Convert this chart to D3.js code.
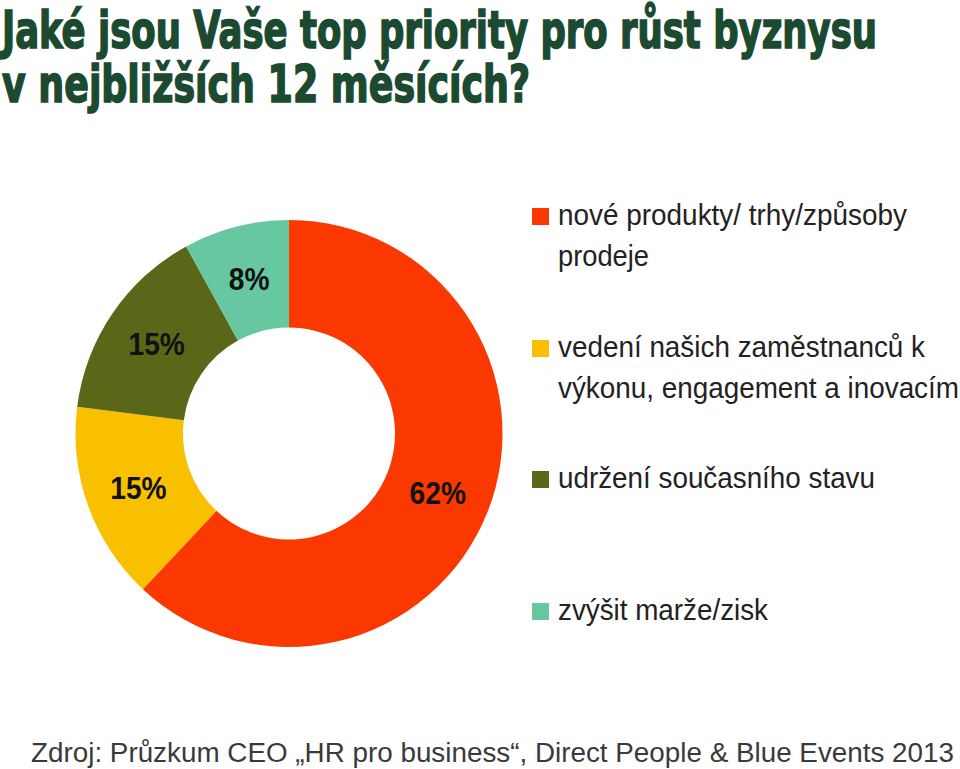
<!DOCTYPE html>
<html><head><meta charset="utf-8">
<script src="https://cdn.jsdelivr.net/npm/d3@7/dist/d3.min.js"></script>
<style>html,body{margin:0;padding:0;background:#fff;}</style>
</head><body>
<svg id="chart" width="960" height="769"></svg>
<script>
const categories = [
  "nové produkty/ trhy/způsoby prodeje",
  "vedení našich zaměstnanců k výkonu, engagement a inovacím",
  "udržení současního stavu",
  "zvýšit marže/zisk"
];
const legendLines = [
  ["nové produkty/ trhy/způsoby", "prodeje"],
  ["vedení našich zaměstnanců k", "výkonu, engagement a inovacím"],
  ["udržení současního stavu"],
  ["zvýšit marže/zisk"]
];
const values = [62, 15, 15, 8];
const colors = ["#fa3800", "#f9c000", "#5b6718", "#66c7a0"];
const titleLines = ["Jaké jsou Vaše top priority pro růst byznysu", "v nejbližších 12 měsících?"];
const footer = "Zdroj: Průzkum CEO „HR pro business“, Direct People & Blue Events 2013";

const svg = d3.select("#chart");

// Title
const titleW = [875, 528];
const titleY = [48, 102];
titleLines.forEach((t, i) => {
  svg.append("text")
    .attr("x", 2).attr("y", titleY[i])
    .attr("font-family", "'DejaVu Sans Condensed', 'DejaVu Sans', sans-serif")
    .attr("font-weight", "bold")
    .attr("font-size", 52)
    .attr("fill", "#1b4a31").attr("stroke", "#1b4a31").attr("stroke-width", 1.6)
    .attr("textLength", titleW[i]).attr("lengthAdjust", "spacingAndGlyphs")
    .text(t);
});

// Donut
const cx = 289, cy = 433.5, outerR = 213.5, innerR = 106;
const pie = d3.pie().sort(null).value(d => d)(values);
const arc = d3.arc().innerRadius(innerR).outerRadius(outerR);
const labelArc = d3.arc().innerRadius(160).outerRadius(160);
const g = svg.append("g").attr("transform", `translate(${cx},${cy})`);
g.selectAll("path").data(pie).join("path")
  .attr("d", arc).attr("fill", (d, i) => colors[i]);
g.selectAll("text").data(pie).join("text")
  .attr("transform", d => `translate(${labelArc.centroid(d)}) scale(0.88,1)`)
  .attr("text-anchor", "middle").attr("dy", "0.36em")
  .attr("font-family", "'Liberation Sans', Arial, sans-serif")
  .attr("font-weight", "bold").attr("font-size", 32).attr("fill", "#111")
  .text(d => d.data + "%");

// Legend
const legendY = [225, 357, 488, 620];
const lineW = [[349, 91], [367, 401], [317], [210]];
const lg = svg.append("g");
legendLines.forEach((lines, i) => {
  lg.append("rect").attr("x", 532).attr("y", legendY[i] - 17)
    .attr("width", 17).attr("height", 17).attr("fill", colors[i]);
  lines.forEach((l, j) => {
    lg.append("text").attr("x", 558).attr("y", legendY[i] + j * 41)
      .attr("font-family", "'Liberation Sans', Arial, sans-serif")
      .attr("font-size", 30).attr("fill", "#222")
      .attr("textLength", lineW[i][j]).attr("lengthAdjust", "spacingAndGlyphs")
      .text(l);
  });
});

// Footer
svg.append("text").attr("x", 31).attr("y", 762)
  .attr("font-family", "'Liberation Sans', Arial, sans-serif")
  .attr("font-size", 27).attr("fill", "#3a3a3a")
  .attr("textLength", 923).attr("lengthAdjust", "spacingAndGlyphs")
  .text(footer);
</script>
</body></html>
